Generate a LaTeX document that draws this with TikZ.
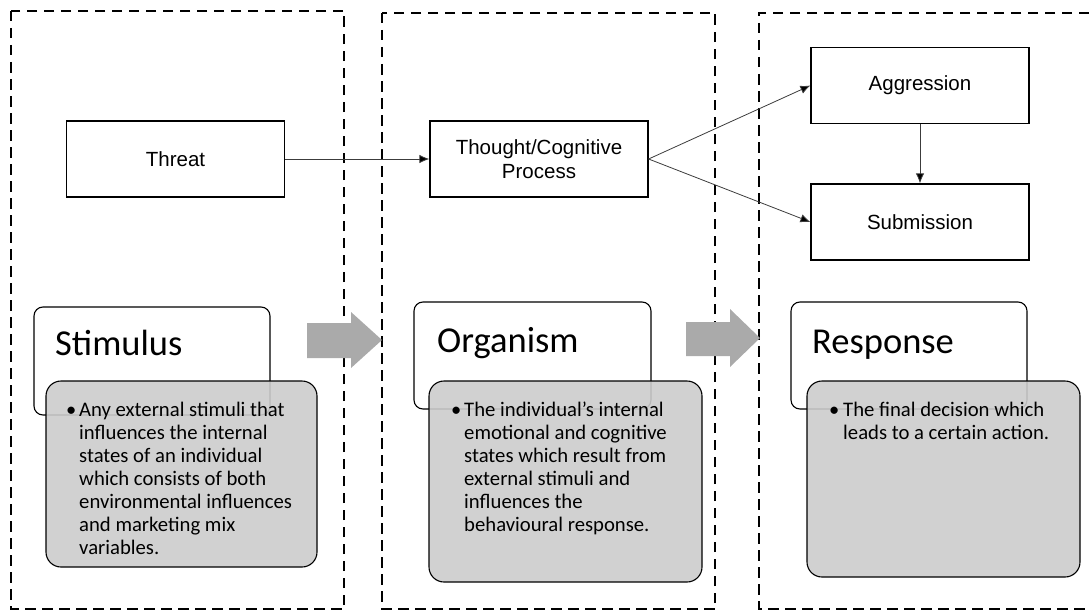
\documentclass[tikz,border=0pt]{standalone}
\usepackage{fontspec}
\setmainfont{Carlito}
\newfontfamily\arialfont{Liberation Sans}
\usetikzlibrary{arrows.meta}
\definecolor{notegray}{RGB}{204,204,204}
\definecolor{flowgray}{RGB}{170,170,170}
\definecolor{linegray}{RGB}{60,60,60}
\tikzset{
  stage/.style={draw,line width=2.2pt,dash pattern=on 10.5pt off 6.5pt},
  flowbox/.style={draw,line width=1.2pt,minimum width=218pt,minimum height=76pt,inner sep=0pt,
    align=center,font=\arialfont\fontsize{20.5}{24.5}\selectfont},
  titlebox/.style={draw,line width=1.1pt,rounded corners=9pt,fill=white,inner sep=0pt},
  notebox/.style={draw,line width=1.1pt,rounded corners=15pt,fill=notegray,fill opacity=0.9,inner sep=0pt},
  heading/.style={anchor=base west,inner sep=0pt,font=\fontsize{36.5}{40}\selectfont},
  dot/.style={anchor=base west,inner sep=0pt,font=\fontsize{20.5}{23}\selectfont},
  notetext/.style={anchor=base west,inner sep=0pt,font=\fontsize{20.5}{23}\selectfont},
  bigarrow/.style={fill=flowgray,draw=none},
}
\newcommand{\notelines}[1]{\parbox[t]{270pt}{\raggedright\fontsize{20.7}{23}\selectfont #1}}
\begin{document}
\begin{tikzpicture}[x=1pt,y=-1pt]
  \useasboundingbox (0,0) rectangle (1089,610);

  \draw[stage] (11,11) rectangle (344,609);
  \draw[stage] (382,13) rectangle (715,609);
  \draw[stage] (1089,13) -- (759,13) -- (759,609) -- (1089,609);

  \node[flowbox] (threat) at (175.5,159) {Threat};
  \node[flowbox] (thought) at (539,159) {Thought/Cognitive\\Process};
  \node[flowbox] (aggression) at (920,85.5) {Aggression};
  \node[flowbox] (submission) at (920,222) {Submission};

  \begin{scope}[draw=linegray,line width=0.8pt,-{Latex[length=10pt,width=8.5pt,fill=black]}]
    \draw (threat) to (thought);
    \draw (thought.east) to (aggression.west);
    \draw (thought.east) to (submission.west);
    \draw (aggression) to (submission);
  \end{scope}

  \node[titlebox,minimum width=236pt,minimum height=108pt] (stimtitle) at (152,361) {};
  \node[heading] (stimhead) at (55,355) {Stimulus};
  \node[notebox,minimum width=271pt,minimum height=186pt] (stimnote) at (181.5,474) {};
  \node[dot] (stimdot) at (66,416) {\textbullet};
  \node[notetext] (stimtext) at (79,416) {\notelines{Any external stimuli that\\influences the internal\\states of an individual\\which consists of both\\environmental influences\\and marketing mix\\variables.}};

  \node[titlebox,minimum width=237pt,minimum height=107pt] (orgtitle) at (532.5,355.5) {};
  \node[heading] (orghead) at (437,352) {Organism};
  \node[notebox,minimum width=273pt,minimum height=201pt] (orgnote) at (565.5,481.5) {};
  \node[dot] (orgdot) at (451,416) {\textbullet};
  \node[notetext] (orgtext) at (464,416) {\notelines{The individual’s internal\\emotional and cognitive\\states which result from\\external stimuli and\\influences the\\behavioural response.}};

  \node[titlebox,minimum width=236pt,minimum height=107pt] (resptitle) at (909,355.5) {};
  \node[heading] (resphead) at (812,353) {Response};
  \node[notebox,minimum width=273pt,minimum height=196pt] (respnote) at (943.5,479) {};
  \node[dot] (respdot) at (829,416) {\textbullet};
  \node[notetext] (resptext) at (843,416) {\notelines{The final decision which\\leads to a certain action.}};

  \fill[bigarrow] (307,323) -- (351,323) -- (351,312) -- (382,340) -- (351,368) -- (351,358) -- (307,358) -- cycle;
  \fill[bigarrow] (686,322) -- (730,322) -- (730,309) -- (760,338) -- (730,367) -- (730,356) -- (686,356) -- cycle;
\end{tikzpicture}
\end{document}
